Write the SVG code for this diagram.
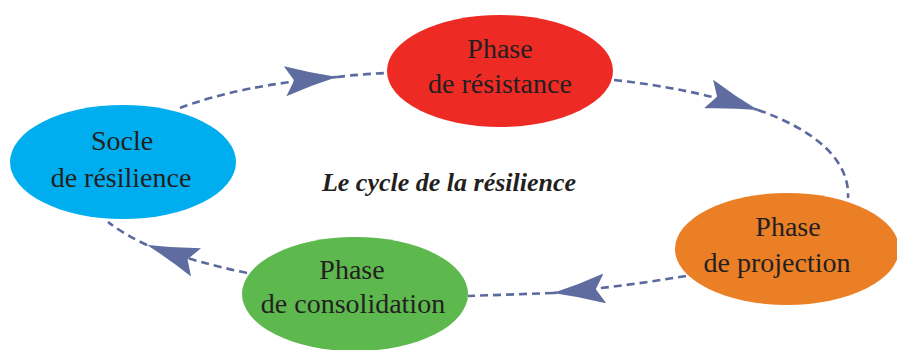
<svg xmlns="http://www.w3.org/2000/svg" width="897" height="350" viewBox="0 0 897 350">
<style>
.lbl{font-family:'Liberation Serif','DejaVu Serif',serif;font-size:28px;fill:#231F20;text-anchor:middle}
.title{font-family:'Liberation Serif','DejaVu Serif',serif;font-size:26px;font-weight:bold;font-style:italic;fill:#231F20;text-anchor:middle}
.con{fill:none;stroke:#5B6A9E;stroke-width:2.6;stroke-dasharray:8 5}
</style>
<defs>
<marker id="ah" markerUnits="userSpaceOnUse" viewBox="0 0 52 30" markerWidth="52" markerHeight="30" refX="52" refY="15" orient="auto">
<path d="M0,0 Q26,9 52,15 Q26,21 0,30 L9,15 Z" fill="#5E6CA0"/>
</marker>
</defs>
<rect width="897" height="350" fill="#ffffff"/>
<g id="connectors">
<path class="con" d="M180,108 Q240,85 337,77" marker-end="url(#ah)"/>
<path class="con" d="M337,77 Q362,74 387,73"/>
<path class="con" d="M614,80 Q690,88 758,110" marker-end="url(#ah)"/>
<path class="con" d="M758,110 C815,130 850,160 848,198"/>
<path class="con" d="M686,276 Q620,287 553,293" marker-end="url(#ah)"/>
<path class="con" d="M553,293 L468,296"/>
<path class="con" d="M247,273 Q195,262 147,245" marker-end="url(#ah)"/>
<path class="con" d="M147,245 Q125,235 108,222"/>
</g>
<g id="socle">
<ellipse cx="123" cy="162" rx="113" ry="57" fill="#00AEEF"/>
<text class="lbl" x="122" y="150">Socle</text>
<text class="lbl" x="121" y="187">de résilience</text>
</g>
<g id="resistance">
<ellipse cx="500" cy="71" rx="113" ry="56" fill="#EE2A24"/>
<text class="lbl" x="500" y="58">Phase</text>
<text class="lbl" x="500" y="93">de résistance</text>
</g>
<g id="projection">
<ellipse cx="787" cy="249" rx="112" ry="56" fill="#EB7F25"/>
<text class="lbl" x="788" y="236">Phase</text>
<text class="lbl" x="777" y="272">de projection</text>
</g>
<g id="consolidation">
<ellipse cx="355" cy="294" rx="113" ry="57" fill="#5DB84E"/>
<text class="lbl" x="352" y="279">Phase</text>
<text class="lbl" x="353" y="313">de consolidation</text>
</g>
<text id="title" class="title" x="449" y="191">Le cycle de la résilience</text>
</svg>
